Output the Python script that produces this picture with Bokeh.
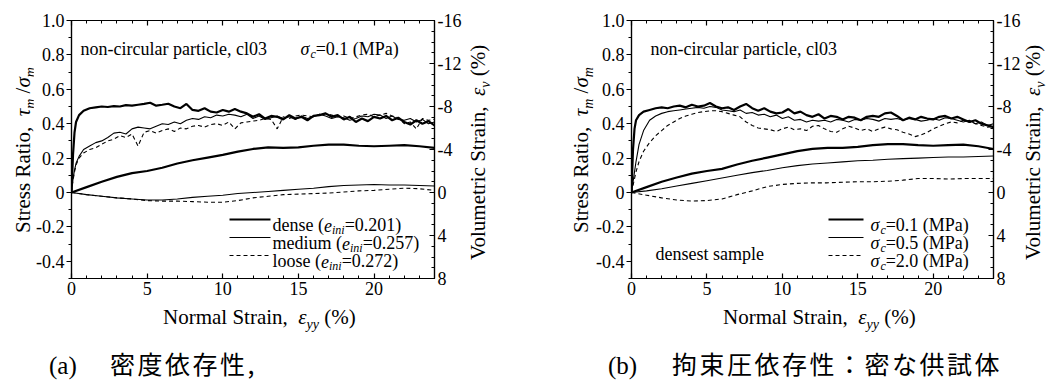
import math
from bokeh.plotting import figure
from bokeh.layouts import row, column
from bokeh.models import (Range1d, LinearAxis, SingleIntervalTicker,
                          CustomJSTickFormatter, Label, Arrow, Div)
from bokeh.embed import file_html
from bokeh.resources import INLINE

# ---------------- data ----------------
STRAIN_S = [0, 0.1, 0.2, 0.3, 0.5, 0.8, 1.2,
            1.6, 2.0, 2.4, 2.8,
            3.2, 3.6, 4.0, 4.4, 4.8,
            5.2, 5.6, 6.0, 6.4, 6.8,
            7.2, 7.6, 8.0, 8.4, 8.8,
            9.2, 9.6, 10.0, 10.4, 10.8,
            11.2, 11.6, 12.0, 12.4, 12.8,
            13.2, 13.6, 14.0, 14.4, 14.8,
            15.2, 15.6, 16.0, 16.4, 16.8,
            17.2, 17.6, 18.0, 18.4, 18.8,
            19.2, 19.6, 20.0, 20.4, 20.8,
            21.2, 21.6, 22.0, 22.4, 22.8,
            23.2, 23.6, 24.0]
STRAIN_V = [0, 1, 2, 3, 4, 5, 6, 7, 8, 9, 10, 11, 12,
            13, 14, 15, 16, 17, 18, 19, 20, 21, 22, 23, 24]

# (a) density dependence: stress ratio
A_STRESS_DENSE = [0, 0.22, 0.35, 0.41, 0.45, 0.475, 0.49,
                  0.495, 0.50, 0.497, 0.502,
                  0.50, 0.508, 0.505, 0.51, 0.515,
                  0.522, 0.505, 0.51, 0.516, 0.50,
                  0.49, 0.515, 0.48, 0.475, 0.49,
                  0.47, 0.465, 0.48, 0.47, 0.485,
                  0.47, 0.46, 0.44, 0.455, 0.43,
                  0.445, 0.44, 0.425, 0.45, 0.43,
                  0.44, 0.42, 0.445, 0.45, 0.46,
                  0.44, 0.45, 0.425, 0.44, 0.41,
                  0.43, 0.415, 0.44, 0.43, 0.445,
                  0.42, 0.435, 0.41, 0.395, 0.42,
                  0.40, 0.415, 0.39]
A_STRESS_MEDIUM = [0, 0.08, 0.13, 0.17, 0.21, 0.25, 0.27,
                   0.29, 0.30, 0.32, 0.345,
                   0.35, 0.34, 0.37, 0.38, 0.375,
                   0.37, 0.385, 0.40, 0.395, 0.41,
                   0.40, 0.42, 0.43, 0.425, 0.44,
                   0.435, 0.45, 0.445, 0.455, 0.45,
                   0.44, 0.455, 0.43, 0.445, 0.425,
                   0.435, 0.445, 0.43, 0.44, 0.425,
                   0.445, 0.43, 0.44, 0.455, 0.445,
                   0.43, 0.44, 0.435, 0.42, 0.43,
                   0.445, 0.44, 0.455, 0.45, 0.43,
                   0.445, 0.425, 0.42, 0.43, 0.41,
                   0.425, 0.40, 0.41]
A_STRESS_LOOSE = [0, 0.07, 0.12, 0.16, 0.20, 0.23, 0.25,
                  0.26, 0.28, 0.30, 0.31,
                  0.33, 0.32, 0.34, 0.27, 0.35,
                  0.36, 0.345, 0.36, 0.37, 0.355,
                  0.375, 0.37, 0.385, 0.39, 0.38,
                  0.395, 0.40, 0.39, 0.41, 0.37,
                  0.405, 0.41, 0.415, 0.42, 0.43,
                  0.425, 0.37, 0.44, 0.43, 0.445,
                  0.45, 0.445, 0.44, 0.455, 0.46,
                  0.45, 0.44, 0.445, 0.43, 0.44,
                  0.45, 0.455, 0.44, 0.45, 0.46,
                  0.445, 0.435, 0.40, 0.41, 0.37,
                  0.43, 0.42, 0.425]
# (a) volumetric strain (%)
A_VOL_DENSE = [0, -0.5, -1.0, -1.45, -1.8, -2.0, -2.3, -2.7, -3.0, -3.25, -3.5,
               -3.8, -4.05, -4.2, -4.15, -4.2, -4.35, -4.45, -4.45, -4.35, -4.3,
               -4.35, -4.4, -4.3, -4.15]
A_VOL_MEDIUM = [0, 0.2, 0.35, 0.5, 0.6, 0.7, 0.7, 0.6, 0.45, 0.35, 0.25, 0.1,
                0.0, -0.1, -0.2, -0.3, -0.4, -0.55, -0.65, -0.7, -0.75, -0.7,
                -0.7, -0.65, -0.6]
A_VOL_LOOSE = [0, 0.2, 0.35, 0.5, 0.6, 0.75, 0.8, 0.8, 0.85, 0.9, 0.9, 0.75,
               0.5, 0.35, 0.2, 0.15, 0.1, 0.05, -0.05, -0.15, -0.2, -0.3, -0.4,
               -0.35, -0.2]

# (b) confining pressure dependence: stress ratio
B_STRESS_01 = [0, 0.25, 0.37, 0.42, 0.45, 0.47, 0.48,
               0.49, 0.495, 0.49, 0.50,
               0.505, 0.495, 0.51, 0.50, 0.505,
               0.52, 0.50, 0.49, 0.495, 0.48,
               0.50, 0.515, 0.49, 0.475, 0.49,
               0.47, 0.46, 0.465, 0.485, 0.46,
               0.47, 0.45, 0.44, 0.455, 0.43,
               0.445, 0.44, 0.425, 0.44, 0.435,
               0.42, 0.44, 0.445, 0.44, 0.46,
               0.465, 0.445, 0.42, 0.435, 0.425,
               0.44, 0.43, 0.425, 0.44, 0.445,
               0.43, 0.44, 0.425, 0.41, 0.42,
               0.40, 0.39, 0.38]
B_STRESS_05 = [0, 0.06, 0.12, 0.18, 0.28, 0.36, 0.42,
               0.445, 0.46, 0.47, 0.475,
               0.48, 0.485, 0.49, 0.495, 0.49,
               0.50, 0.495, 0.48, 0.475, 0.47,
               0.48, 0.46, 0.465, 0.45, 0.455,
               0.44, 0.45, 0.43, 0.44, 0.42,
               0.425, 0.41, 0.42, 0.415, 0.42,
               0.41, 0.425, 0.42, 0.41, 0.425,
               0.42, 0.43, 0.425, 0.415, 0.43,
               0.425, 0.43, 0.42, 0.43, 0.425,
               0.415, 0.42, 0.43, 0.42, 0.435,
               0.43, 0.42, 0.41, 0.42, 0.40,
               0.41, 0.39, 0.40]
B_STRESS_20 = [0, 0.04, 0.08, 0.12, 0.18, 0.24, 0.29,
               0.33, 0.36, 0.39, 0.41,
               0.43, 0.445, 0.455, 0.465, 0.47,
               0.475, 0.475, 0.47, 0.46, 0.45,
               0.44, 0.41, 0.39, 0.375, 0.37,
               0.365, 0.355, 0.37, 0.38, 0.365,
               0.37, 0.36, 0.385, 0.39, 0.37,
               0.355, 0.35, 0.37, 0.385, 0.375,
               0.36, 0.37, 0.355, 0.37, 0.38,
               0.37, 0.365, 0.35, 0.34, 0.325,
               0.335, 0.35, 0.37, 0.385, 0.40,
               0.41, 0.405, 0.42, 0.41, 0.40,
               0.39, 0.38, 0.385]
# (b) volumetric strain (%)
B_VOL_01 = [0, -0.5, -1.0, -1.4, -1.75, -2.0, -2.2, -2.6, -2.95, -3.25, -3.55,
            -3.85, -4.05, -4.15, -4.15, -4.25, -4.4, -4.5, -4.5, -4.4, -4.35,
            -4.4, -4.45, -4.3, -4.05]
B_VOL_05 = [0, -0.15, -0.35, -0.6, -0.85, -1.1, -1.35, -1.6, -1.85, -2.05, -2.3,
            -2.5, -2.65, -2.75, -2.85, -2.95, -3.0, -3.1, -3.15, -3.2, -3.25,
            -3.3, -3.3, -3.35, -3.4]
B_VOL_20 = [0, 0.25, 0.5, 0.7, 0.8, 0.75, 0.6, 0.2, -0.15, -0.55, -0.75, -0.85,
            -0.9, -0.9, -0.95, -1.0, -1.0, -1.05, -1.15, -1.3, -1.3, -1.25, -1.3,
            -1.3, -1.3]

A_LEGEND = [("dense (", "=0.201)"), ("medium (", "=0.257)"), ("loose (", "=0.272)")]
B_LEGEND = ["=0.1 (MPa)", "=0.5 (MPa)", "=2.0 (MPa)"]
CAPTION_A = ("(a)", "密度依存性,")
CAPTION_B = ("(b)", "拘束圧依存性：密な供試体")

# ---------------- styling ----------------
SERIF = "Liberation Serif"
CJK = "Noto Sans CJK JP"
STYLES = [dict(line_width=2.2), dict(line_width=1.1),
          dict(line_width=1.1, line_dash="4 3")]

W_ROMAN = {' ': 250, '(': 333, ')': 333, '%': 833, ',': 250, '-': 333, '.': 250,
           '/': 278, '=': 564, 'M': 889, 'N': 722, 'P': 556, 'R': 667, 'S': 556,
           'V': 722, 'a': 444, 'b': 500, 'c': 444, 'd': 500, 'e': 444, 'i': 278,
           'l': 278, 'm': 778, 'n': 500, 'o': 500, 'p': 500, 'r': 333, 's': 389,
           't': 278, 'u': 500, 'v': 500, 'y': 500, 'τ': 439, 'σ': 549, 'ε': 439}
W_ITALIC = {'e': 444, 'i': 278, 'n': 500, 'v': 444, 'y': 444, 'm': 722, 'c': 444}


def text_width(s, size, italic=False):
    tot = 0
    for ch in s:
        if italic and ch in W_ITALIC:
            tot += W_ITALIC[ch]
        else:
            tot += W_ROMAN.get(ch, 500)
    return tot * size / 1000.0


def put(p, segs, x, y):
    """segs: (text, size, italic, is_sub); x,y: start at text centre line (frame screen units)."""
    pos = 0.0
    main = segs[0][1]
    for text, size, italic, sub in segs:
        off = 0.32 * main + (0.26 * main if sub else 0.0)
        p.add_layout(Label(x=x + pos, y=y - off, x_units="screen", y_units="screen",
                           text=text, text_font=SERIF,
                           text_font_size=f"{size}px",
                           text_font_style="italic" if italic else "normal",
                           text_align="left", text_baseline="alphabetic",
                           text_color="black"))
        pos += text_width(text, size, italic)


def style_axis(ax, tin, tout, mtin, mtout, standoff):
    ax.axis_line_color = "black"
    ax.axis_line_width = 1.2
    ax.major_tick_line_color = "black"
    ax.major_tick_line_width = 1.2
    ax.minor_tick_line_color = "black"
    ax.minor_tick_line_width = 1.0
    ax.major_tick_in = tin
    ax.major_tick_out = tout
    ax.minor_tick_in = mtin
    ax.minor_tick_out = mtout
    ax.major_label_text_font = SERIF
    ax.major_label_text_font_size = "18px"
    ax.major_label_text_color = "black"
    ax.major_label_standoff = standoff


def make_panel(fw):
    p = figure(frame_width=fw, frame_height=258, min_border_left=38,
               min_border_right=30, min_border_top=20, min_border_bottom=30,
               x_range=Range1d(0, 24), y_range=Range1d(-0.5, 1.0),
               output_backend="svg", toolbar_location=None)
    p.extra_y_ranges = {"vol": Range1d(start=8, end=-16)}
    p.grid.visible = False
    p.outline_line_color = "black"
    p.outline_line_width = 1.2
    p.background_fill_color = "white"
    p.border_fill_color = "white"

    xa = p.xaxis[0]
    xa.ticker = SingleIntervalTicker(interval=5, num_minor_ticks=5)
    xa.formatter = CustomJSTickFormatter(code="return Math.round(tick).toString();")
    style_axis(xa, 5, 0, 3, 0, 3)

    ya = p.yaxis[0]
    ya.ticker = SingleIntervalTicker(interval=0.2, num_minor_ticks=2)
    ya.formatter = CustomJSTickFormatter(
        code="return Math.abs(tick) < 1e-9 ? '0' : tick.toFixed(1);")
    style_axis(ya, 0, 5, 0, 3, 2)

    ra = LinearAxis(y_range_name="vol",
                    ticker=SingleIntervalTicker(interval=4, num_minor_ticks=4),
                    formatter=CustomJSTickFormatter(
                        code="return Math.round(tick).toString();"))
    style_axis(ra, 5, 0, 3, 0, 3)
    p.add_layout(ra, "right")

    ta = LinearAxis(ticker=SingleIntervalTicker(interval=5, num_minor_ticks=5),
                    formatter=CustomJSTickFormatter(code="return '';"))
    style_axis(ta, 5, 0, 3, 0, 0)
    ta.major_label_text_font_size = "1px"
    p.add_layout(ta, "above")
    return p


def legend_line(p, x0, x1, y, st):
    p.add_layout(Arrow(end=None, x_start=x0, y_start=y, x_end=x1, y_end=y,
                       start_units="screen", end_units="screen",
                       line_color="black", **st))


# ---------------- HTML helpers for titles outside the frames ----------------
SUB = ('<span style="font-size:14px;font-style:italic;'
       'vertical-align:-5px">{}</span>')
LEFT_TITLE = ('Stress Ratio,&nbsp; <i>&tau;</i>' + SUB.format('m') +
              ' /<i>&sigma;</i>' + SUB.format('m'))
RIGHT_TITLE = ('Volumetric Strain,&nbsp; <i>&epsilon;</i>' + SUB.format('v') +
               ' (%)')
BOTTOM_TITLE = ('Normal Strain,&nbsp; <i>&epsilon;</i>' + SUB.format('yy') +
                ' (%)')
SPAN = ('<div style="position:absolute;left:{l}px;top:{t}px;white-space:nowrap;'
        'line-height:1;color:#000;font-family:\'{f}\';font-size:{s}px;'
        '{extra}">{html}</div>')


def wrap(w, h, inner):
    return (f'<div style="position:relative;width:{w}px;height:{h}px;'
            f'overflow:visible;margin:0;padding:0;">{inner}</div>')


def vtitle(w, h, baseline_x, start_y, html):
    inner = SPAN.format(l=baseline_x - 0.8375 * 21, t=start_y, f=SERIF, s=21,
                        extra='transform:rotate(-90deg);transform-origin:0 0;',
                        html=html)
    return Div(text=wrap(w, h, inner), width=w, height=h,
               styles={"margin": "0", "padding": "0", "overflow": "visible"})


TOP_H = 308

# ---------------- panel (a) ----------------
pa = make_panel(363)
for ys, st in zip([A_STRESS_DENSE, A_STRESS_MEDIUM, A_STRESS_LOOSE], STYLES):
    pa.line(STRAIN_S, ys, line_color="black", **st)
for ys, st in zip([A_VOL_DENSE, A_VOL_MEDIUM, A_VOL_LOOSE], STYLES):
    pa.line(STRAIN_V, ys, y_range_name="vol", line_color="black", **st)

put(pa, [("non-circular particle, cl03", 18, False, False)], 9, 235)
put(pa, [("σ", 18, True, False), ("c", 12, True, True),
         ("=0.1 (MPa)", 18, False, False)], 229, 235)
for i, ((pre, post), st) in enumerate(zip(A_LEGEND, STYLES)):
    yy = 59 - 18 * i
    legend_line(pa, 158, 199, yy, st)
    put(pa, [(pre, 18, False, False), ("e", 18, True, False),
             ("ini", 12, True, True), (post, 18, False, False)], 201, yy)

# ---------------- panel (b) ----------------
pb = make_panel(362)
for ys, st in zip([B_STRESS_01, B_STRESS_05, B_STRESS_20], STYLES):
    pb.line(STRAIN_S, ys, line_color="black", **st)
for ys, st in zip([B_VOL_01, B_VOL_05, B_VOL_20], STYLES):
    pb.line(STRAIN_V, ys, y_range_name="vol", line_color="black", **st)

put(pb, [("non-circular particle, cl03", 18, False, False)], 19, 235)
put(pb, [("densest sample", 18, False, False)], 24, 30)
for i, (post, st) in enumerate(zip(B_LEGEND, STYLES)):
    yy = 59 - 18 * i
    legend_line(pb, 197, 232, yy, st)
    put(pb, [("σ", 18, True, False), ("c", 12, True, True),
             (post, 18, False, False)], 239, yy)

# ---------------- side title strips ----------------
d_lt_a = vtitle(33, TOP_H, 31, 233, LEFT_TITLE)
d_rt_a = vtitle(32, TOP_H, 22, 260, RIGHT_TITLE)
d_lt_b = vtitle(97, TOP_H, 93, 233, LEFT_TITLE)
d_rt_b = vtitle(27, TOP_H, 18, 260, RIGHT_TITLE)

# ---------------- bottom strip: x titles and captions ----------------
BOT_H = 381 - TOP_H
base_bt = 325 - TOP_H
base_cap = 374 - TOP_H
bottom_inner = "".join([
    SPAN.format(l=163, t=base_bt - 0.8375 * 21, f=SERIF, s=21, extra="",
                html=BOTTOM_TITLE),
    SPAN.format(l=723, t=base_bt - 0.8375 * 21, f=SERIF, s=21, extra="",
                html=BOTTOM_TITLE),
    SPAN.format(l=49, t=base_cap - 0.8375 * 25, f=SERIF, s=25, extra="",
                html=CAPTION_A[0]),
    SPAN.format(l=110, t=base_cap - 0.93 * 25, f=CJK, s=25,
                extra="letter-spacing:2.5px;", html=CAPTION_A[1]),
    SPAN.format(l=608, t=base_cap - 0.8375 * 25, f=SERIF, s=25, extra="",
                html=CAPTION_B[0]),
    SPAN.format(l=672, t=base_cap - 0.93 * 25, f=CJK, s=25,
                extra="letter-spacing:2.5px;", html=CAPTION_B[1]),
])
d_bottom = Div(text=wrap(1050, BOT_H, bottom_inner), width=1050, height=BOT_H,
               styles={"margin": "0", "padding": "0", "overflow": "visible"})

layout = column(row(d_lt_a, pa, d_rt_a, d_lt_b, pb, d_rt_b, spacing=0),
                d_bottom, spacing=0)
open("out.html", "w").write(file_html(layout, INLINE))
